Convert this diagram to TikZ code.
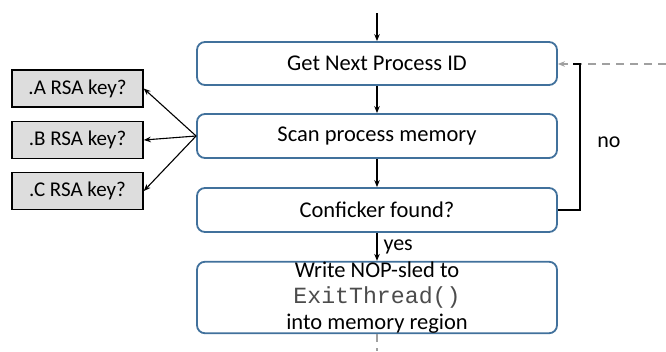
\documentclass[tikz,border=0pt]{standalone}
\usepackage{fontspec}
\setmainfont{Carlito}
\setmonofont{Liberation Mono}
\usetikzlibrary{arrows.meta}
\definecolor{boxblue}{RGB}{65,113,156}
\definecolor{keyfill}{RGB}{221,221,221}
\definecolor{dashgray}{RGB}{160,160,160}
\tikzset{
  procbox/.style={draw=boxblue, line width=1.8pt, rounded corners=8pt, fill=white,
    minimum width=360pt, inner sep=0pt, align=center,
    font=\fontsize{22.5}{26}\selectfont},
  keybox/.style={draw=black, line width=1.5pt, fill=keyfill, minimum width=131pt,
    minimum height=37pt, inner sep=0pt, font=\fontsize{21}{24}\selectfont},
  flow/.style={draw=black, line width=1.1pt, -{Stealth[length=7pt,width=5.5pt]}},
  lbl/.style={font=\fontsize{22}{24}\selectfont, inner sep=0pt}
}
\begin{document}
\begin{tikzpicture}[x=1pt,y=-1pt]
\useasboundingbox (0,0) rectangle (666,351);
\node[procbox, minimum height=43pt] (getpid) at (377,63.5) {Get Next Process ID};
\node[procbox, minimum height=44pt] (scan) at (377,136) {Scan process memory};
\node[procbox, minimum height=44pt] (found) at (377,210) {Conficker found?};
\node[procbox, minimum height=71pt] (write) at (377,297.5)
  {Write NOP-sled to\\{\fontsize{23.2}{26}\selectfont\ttfamily\color[gray]{0.3}ExitThread()}\\into memory region};
\node[keybox] (ka) at (77.5,88.5) {.A RSA key?};
\node[keybox] (kb) at (77.5,140) {.B RSA key?};
\node[keybox] (kc) at (77.5,191) {.C RSA key?};
\coordinate (start) at (377,13);
\coordinate (endd) at (377,351);
\coordinate (rin) at (666,64);
\coordinate (lpb) at (580,210);
\coordinate (lpt) at (580,64);
\coordinate (lptick) at (573,64);
\draw[flow] (start) -- (getpid.north);
\draw[flow] (getpid.south) -- (scan.north);
\draw[flow] (scan.south) -- (found.north);
\draw[flow] (found.south) -- node[lbl, right=6pt, pos=0.5] (yes) {yes} (write.north);
\draw[flow] (scan.west) -- (ka.east);
\draw[flow] (scan.west) -- (kb.east);
\draw[flow] (scan.west) -- (kc.east);
\draw[dashgray, line width=1.1pt, dash pattern=on 8pt off 6pt] (write.south) -- (endd);
\draw[dashgray, line width=1.1pt, dash pattern=on 8pt off 6pt, -{Stealth[length=7pt,width=5.5pt]}] (rin) -- (getpid.east |- rin);
\draw[black, line width=1.1pt] (found.east) -- (lpb) -- (lpt) -- (lptick);
\node[lbl] (no) at (609,142) {no};
\end{tikzpicture}
\end{document}
